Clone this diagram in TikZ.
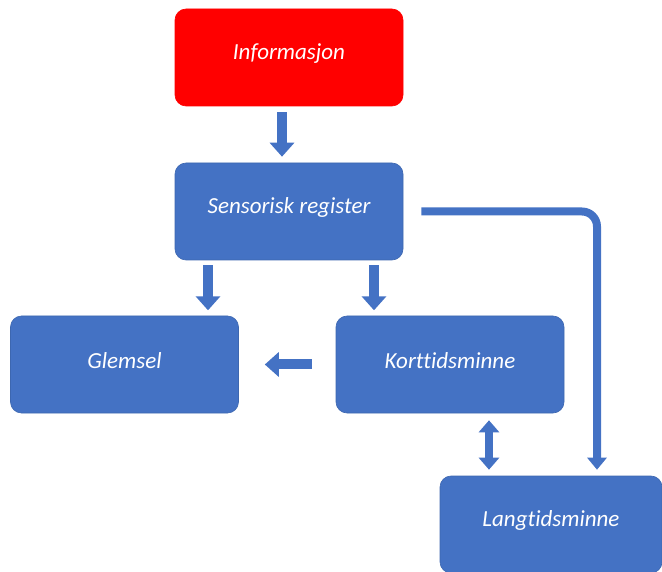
\documentclass[tikz,border=0pt]{standalone}
\usepackage{fontspec}
\setmainfont{Carlito}[Ligatures=NoCommon]
\usetikzlibrary{arrows.meta}

\definecolor{boxblue}{HTML}{4472C4}
\definecolor{boxred}{HTML}{FF0000}

\tikzset{
  stage/.style={rectangle, rounded corners=11pt, fill=boxblue, draw=boxblue!90!black,
    line width=0.6pt, text=white, inner sep=0pt,
    minimum width=228pt, minimum height=97pt,
    font=\fontsize{23}{26}\selectfont\itshape},
  stagetext/.style={text=white, inner sep=0pt, yshift=4pt,
    font=\fontsize{23}{26}\selectfont\itshape},
  blockarrow/.style={draw=boxblue, line width=10pt,
    -{Triangle[width=24pt,length=14pt]}},
  twoway/.style={draw=boxblue, line width=8pt,
    {Triangle[width=20pt,length=12pt]}-{Triangle[width=20pt,length=12pt]}},
  bentarrow/.style={draw=boxblue, line width=8pt, rounded corners=15pt,
    -{Triangle[width=19pt,length=12pt]}}
}

\begin{document}
\begin{tikzpicture}[x=1pt, y=-1pt]

  % page
  \useasboundingbox (0,0) rectangle (662,572);

  % stages
  \node[stage, fill=boxred, draw=boxred] (info) at (289,57.5) {};
  \node[stage] (sens) at (289,211.5) {};
  \node[stage] (glem) at (124.5,364.5) {};
  \node[stage] (kort) at (450,364.5) {};
  \node[stage, minimum width=222pt] (lang) at (551,524.5) {};

  % labels, set a little above the middle
  \foreach \nm/\txt in {info/Informasjon, sens/Sensorisk register,
    glem/Glemsel, kort/Korttidsminne, lang/Langtidsminne}
    \node[stagetext] (\nm-label) at (\nm) {\txt};

  % block arrows
  \draw[blockarrow] ([xshift=-7pt,yshift=-6pt]info.south)
    -- ([xshift=-7pt,yshift=6pt]sens.north);
  \draw[blockarrow] ([xshift=-81pt,yshift=-5pt]sens.south)
    -- ([xshift=-81pt,yshift=-50pt]sens.south);
  \draw[blockarrow] ([xshift=85pt,yshift=-5pt]sens.south)
    -- ([xshift=85pt,yshift=-50pt]sens.south);
  \draw[blockarrow] ([xshift=-24pt]kort.west) -- ([xshift=26pt]glem.east);
  \draw[twoway] ([xshift=39pt,yshift=-7pt]kort.south)
    -- ([xshift=-62pt,yshift=6pt]lang.north);

  % bent arrow to long term memory
  \coordinate (bendstart) at ([xshift=18pt]sens.east);
  \coordinate (bendend) at ([xshift=46pt,yshift=6pt]lang.north);
  \draw[bentarrow] (bendstart) -| (bendend);

\end{tikzpicture}
\end{document}
